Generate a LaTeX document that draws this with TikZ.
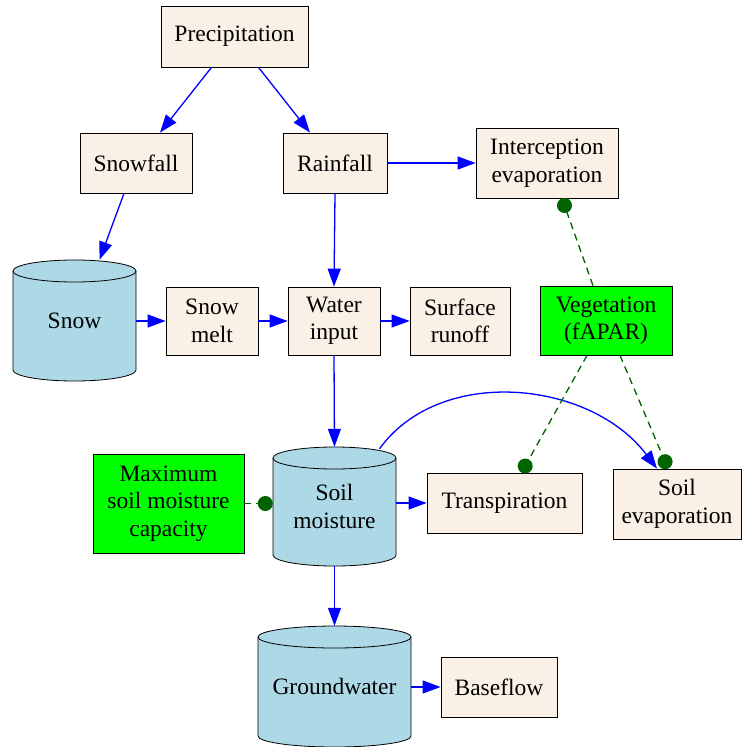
\documentclass[tikz,border=0pt]{standalone}
\usepackage{fontspec}
\setmainfont{Liberation Serif}
\usetikzlibrary{arrows.meta}

\definecolor{linen}{HTML}{FAF0E6}
\definecolor{lightblue}{HTML}{ADD8E6}
\definecolor{vegGreen}{HTML}{00FF00}
\definecolor{darkGreen}{HTML}{006400}

% drum outline: centre x, top y, x radius, height
\newcommand*{\drum}[4]{
	\filldraw[fill=lightblue,thick] (#1-#3,#2+11) -- (#1-#3,#2+#4-11)
		arc[start angle=180,end angle=360,x radius=#3pt,y radius=11pt]
		-- (#1+#3,#2+11)
		arc[start angle=0,end angle=180,x radius=#3pt,y radius=11pt] -- cycle;
	\draw[thick] (#1-#3,#2+11) arc[start angle=180,end angle=360,x radius=#3pt,y radius=11pt];
}

\begin{document}
\begin{tikzpicture}
[
	x=1pt,
	y=-1pt,
	font=\fontsize{23.5}{27.5}\selectfont,
	flux/.style={rectangle,draw,thick,fill=linen,align=center,inner sep=0pt},
	param/.style={rectangle,draw,thick,fill=vegGreen,align=center,inner sep=0pt},
	store/.style={rectangle,align=center,inner sep=0pt},
	flow/.style={-{Triangle[length=18pt,width=13pt]},blue,line width=1.3pt},
	control/.style={-{Circle[length=15pt]},darkGreen,line width=1.3pt,dash pattern=on 7pt off 5pt}
]

	\useasboundingbox (0,0) rectangle (742,747);

	% drums
	\drum{74.5}{260}{61.5}{121}
	\drum{334.5}{447}{61.5}{119}
	\drum{334.5}{626}{76.5}{121}

	% stores
	\node[store,minimum width=123pt,minimum height=121pt] (snow) at (74.5,320.5) {Snow};
	\node[store,minimum width=123pt,minimum height=119pt] (soil) at (334.5,506.5) {Soil\\moisture};
	\node[store,minimum width=153pt,minimum height=121pt] (gw) at (334.5,686.5) {Groundwater};

	% boxes
	\node[flux,minimum width=147pt,minimum height=61pt] (precip) at (234.5,36.5) {Precipitation};
	\node[flux,minimum width=112pt,minimum height=60pt] (snowfall) at (136,163) {Snowfall};
	\node[flux,minimum width=104pt,minimum height=60pt] (rain) at (335,163) {Rainfall};
	\node[flux,minimum width=142pt,minimum height=70pt] (intercep) at (547,163) {Interception\\evaporation};
	\node[flux,minimum width=92pt,minimum height=68pt] (smelt) at (212,321) {Snow\\melt};
	\node[flux,minimum width=92pt,minimum height=68pt] (winput) at (334,321) {Water\\input};
	\node[flux,minimum width=100pt,minimum height=68pt] (runoff) at (460,321) {Surface\\runoff};
	\node[param,minimum width=132pt,minimum height=69pt] (veg) at (606,320.5) {Vegetation\\(fAPAR)};
	\node[param,minimum width=151pt,minimum height=99pt] (maxsm) at (168.5,503.5) {Maximum\\soil moisture\\capacity};
	\node[flux,minimum width=155pt,minimum height=60pt] (transp) at (504.5,503) {Transpiration};
	\node[flux,minimum width=128pt,minimum height=70pt] (sevap) at (677,504) {Soil\\evaporation};
	\node[flux,minimum width=116pt,minimum height=60pt] (baseflow) at (499,687) {Baseflow};

	% water fluxes
	\draw[flow] ([xshift=-23pt]precip.south) -- ([xshift=24pt]snowfall.north);
	\draw[flow] ([xshift=24pt]precip.south) -- ([xshift=-25pt]rain.north);
	\draw[flow] ([xshift=-12pt]snowfall.south) -- ([xshift=25pt]snow.north);
	\draw[flow] (rain.east) -- (intercep.west);
	\draw[flow] (rain.south) -- (winput.north);
	\draw[flow] (snow.east |- smelt.west) -- (smelt.west);
	\draw[flow] (smelt.east) -- (winput.west);
	\draw[flow] (winput.east) -- (runoff.west);
	\draw[flow] (winput.south) -- (soil.north);
	\draw[flow] (soil.east |- transp.west) -- (transp.west);
	\draw[flow] ([xshift=45pt,yshift=-2pt]soil.north) .. controls (440,365) and (590,380) .. ([xshift=-20pt]sevap.north);
	\draw[flow] (soil.south) -- (gw.north);
	\draw[flow] (gw.east |- baseflow.west) -- (baseflow.west);

	% controls
	\draw[control] ([xshift=-13pt]veg.north) -- ([xshift=15pt]intercep.south);
	\draw[control] ([xshift=-19pt]veg.south) -- ([xshift=17pt]transp.north);
	\draw[control] ([xshift=14pt]veg.south) -- ([xshift=-9pt]sevap.north);
	\draw[control] (maxsm.east) -- (soil.west |- maxsm.east);

\end{tikzpicture}
\end{document}
